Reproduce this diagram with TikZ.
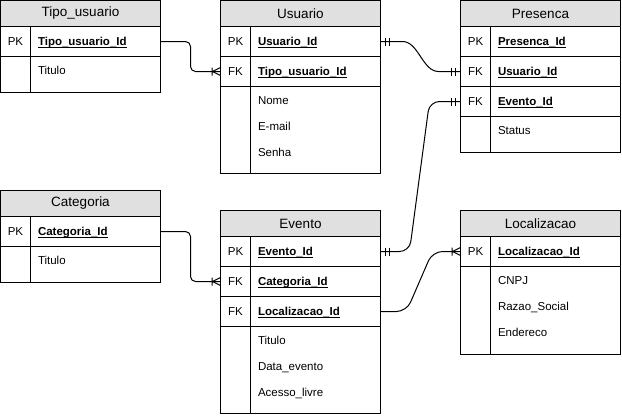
\documentclass[tikz,border=0pt]{standalone}
\usepackage{fontspec}
\setmainfont{Liberation Sans}
\usepackage{xcolor}
\usetikzlibrary{positioning}

\definecolor{headgray}{HTML}{E0E0E0}
\newcommand\ulkey[1]{\underline{\smash{#1}}}

\tikzset{
	head/.style={draw, fill=headgray, minimum width=160pt, minimum height=26pt, inner sep=0pt, outer sep=0pt, font=\fontsize{13.5}{16}\selectfont},
	keyrow/.style={draw, minimum width=160pt, minimum height=30pt, inner sep=0pt, outer sep=0pt},
	attrbox/.style={draw, minimum width=160pt, inner sep=0pt, outer sep=0pt},
	tag/.style={anchor=base, inner sep=0pt, font=\fontsize{11.5}{14}\selectfont},
	keyname/.style={anchor=base west, inner sep=0pt, font=\bfseries\fontsize{11.5}{14}\selectfont},
	attr/.style={anchor=base west, inner sep=0pt, font=\fontsize{11.5}{14}\selectfont},
	pics/onlyone/.style={code={\draw (5,-4) -- (5,4) (9,-4) -- (9,4);}},
	pics/onemany/.style={code={\draw (8.5,-4) -- (8.5,4) (8,0) -- (0,-4) (8,0) -- (0,4);}}
}

\begin{document}
\begin{tikzpicture}[x=1pt,y=-1pt,line width=1pt]
\useasboundingbox (0,0) rectangle (622,416);

% Tipo_usuario
\node[head] (tu) at (80.5,13.5) {Tipo\_usuario};
\node[keyrow, below=0pt of tu] (tu-pk) {};
\node[attrbox, minimum height=36pt, below=0pt of tu-pk] (tu-at) {};
\node[tag] (tu-pk-t) at ([xshift=15pt,yshift=-4.2pt]tu-pk.west) {PK};
\node[keyname] (tu-pk-n) at ([xshift=37pt,yshift=-4.2pt]tu-pk.west) {\ulkey{Tipo\_usuario\_Id}};
\node[attr] (tu-a1) at ([xshift=37pt,yshift=-18.2pt]tu-at.north west) {Titulo};

% Usuario
\node[head] (usr) at (300.5,13.5) {Usuario};
\node[keyrow, below=0pt of usr] (usr-pk) {};
\node[keyrow, below=0pt of usr-pk] (usr-fk) {};
\node[attrbox, minimum height=87pt, below=0pt of usr-fk] (usr-at) {};
\node[tag] (usr-pk-t) at ([xshift=15pt,yshift=-4.2pt]usr-pk.west) {PK};
\node[keyname] (usr-pk-n) at ([xshift=37pt,yshift=-4.2pt]usr-pk.west) {\ulkey{Usuario\_Id}};
\node[tag] (usr-fk-t) at ([xshift=15pt,yshift=-4.2pt]usr-fk.west) {FK};
\node[keyname] (usr-fk-n) at ([xshift=37pt,yshift=-4.2pt]usr-fk.west) {\ulkey{Tipo\_usuario\_Id}};
\foreach \s [count=\i] in {Nome,E-mail,Senha}{
	\node[attr] (usr-a\i) at ([xshift=37pt,yshift={-18.2pt-(\i-1)*26pt}]usr-at.north west) {\s};
}

% Presenca
\node[head] (pre) at (540.5,13.5) {Presenca};
\node[keyrow, below=0pt of pre] (pre-pk) {};
\node[keyrow, below=0pt of pre-pk] (pre-fk1) {};
\node[keyrow, below=0pt of pre-fk1] (pre-fk2) {};
\node[attrbox, minimum height=36pt, below=0pt of pre-fk2] (pre-at) {};
\node[tag] (pre-pk-t) at ([xshift=15pt,yshift=-4.2pt]pre-pk.west) {PK};
\node[keyname] (pre-pk-n) at ([xshift=37pt,yshift=-4.2pt]pre-pk.west) {\ulkey{Presenca\_Id}};
\node[tag] (pre-fk1-t) at ([xshift=15pt,yshift=-4.2pt]pre-fk1.west) {FK};
\node[keyname] (pre-fk1-n) at ([xshift=37pt,yshift=-4.2pt]pre-fk1.west) {\ulkey{Usuario\_Id}};
\node[tag] (pre-fk2-t) at ([xshift=15pt,yshift=-4.2pt]pre-fk2.west) {FK};
\node[keyname] (pre-fk2-n) at ([xshift=37pt,yshift=-4.2pt]pre-fk2.west) {\ulkey{Evento\_Id}};
\node[attr] (pre-a1) at ([xshift=37pt,yshift=-18.2pt]pre-at.north west) {Status};

% Categoria
\node[head] (cat) at (80.5,203.5) {Categoria};
\node[keyrow, below=0pt of cat] (cat-pk) {};
\node[attrbox, minimum height=36pt, below=0pt of cat-pk] (cat-at) {};
\node[tag] (cat-pk-t) at ([xshift=15pt,yshift=-4.2pt]cat-pk.west) {PK};
\node[keyname] (cat-pk-n) at ([xshift=37pt,yshift=-4.2pt]cat-pk.west) {\ulkey{Categoria\_Id}};
\node[attr] (cat-a1) at ([xshift=37pt,yshift=-18.2pt]cat-at.north west) {Titulo};

% Evento
\node[head] (ev) at (300.5,223.5) {Evento};
\node[keyrow, below=0pt of ev] (ev-pk) {};
\node[keyrow, below=0pt of ev-pk] (ev-fk1) {};
\node[keyrow, below=0pt of ev-fk1] (ev-fk2) {};
\node[attrbox, minimum height=87pt, below=0pt of ev-fk2] (ev-at) {};
\node[tag] (ev-pk-t) at ([xshift=15pt,yshift=-4.2pt]ev-pk.west) {PK};
\node[keyname] (ev-pk-n) at ([xshift=37pt,yshift=-4.2pt]ev-pk.west) {\ulkey{Evento\_Id}};
\node[tag] (ev-fk1-t) at ([xshift=15pt,yshift=-4.2pt]ev-fk1.west) {FK};
\node[keyname] (ev-fk1-n) at ([xshift=37pt,yshift=-4.2pt]ev-fk1.west) {\ulkey{Categoria\_Id}};
\node[tag] (ev-fk2-t) at ([xshift=15pt,yshift=-4.2pt]ev-fk2.west) {FK};
\node[keyname] (ev-fk2-n) at ([xshift=37pt,yshift=-4.2pt]ev-fk2.west) {\ulkey{Localizacao\_Id}};
\foreach \s [count=\i] in {Titulo,Data\_evento,Acesso\_livre}{
	\node[attr] (ev-a\i) at ([xshift=37pt,yshift={-18.2pt-(\i-1)*26pt}]ev-at.north west) {\s};
}

% Localizacao
\node[head] (loc) at (540.5,223.5) {Localizacao};
\node[keyrow, below=0pt of loc] (loc-pk) {};
\node[attrbox, minimum height=88pt, below=0pt of loc-pk] (loc-at) {};
\node[tag] (loc-pk-t) at ([xshift=15pt,yshift=-4.2pt]loc-pk.west) {PK};
\node[keyname] (loc-pk-n) at ([xshift=37pt,yshift=-4.2pt]loc-pk.west) {\ulkey{Localizacao\_Id}};
\foreach \s [count=\i] in {CNPJ,Razao\_Social,Endereco}{
	\node[attr] (loc-a\i) at ([xshift=37pt,yshift={-18.2pt-(\i-1)*26pt}]loc-at.north west) {\s};
}

% key column
\foreach \t in {tu,usr,pre,cat,ev,loc}{
	\draw ([xshift=30pt]\t.south west) -- ([xshift=30pt]\t-at.south west);
}

% relations
\draw[rounded corners=5pt] (tu-pk.east) -- ++(30,0) |- (usr-fk.west);
\pic[rotate=180] at (usr-fk.west) {onemany};

\draw (usr-pk.east) -- ++(22,0) .. controls +(16,0) and +(-16,0) .. ([xshift=-22pt]pre-fk1.west) -- (pre-fk1.west);
\pic at (usr-pk.east) {onlyone};
\pic[rotate=180] at (pre-fk1.west) {onlyone};

\draw[rounded corners=10pt] (ev-pk.east) -- ++(29,0) -- ([xshift=-31pt]pre-fk2.west) -- (pre-fk2.west);
\pic at (ev-pk.east) {onlyone};
\pic[rotate=180] at (pre-fk2.west) {onlyone};

\draw[rounded corners=5pt] (cat-pk.east) -- ++(30,0) |- (ev-fk1.west);
\pic[rotate=180] at (ev-fk1.west) {onemany};

\draw[rounded corners=10pt] (ev-fk2.east) -- ++(26,0) -- ([xshift=-28pt]loc-pk.west) -- (loc-pk.west);
\pic[rotate=180] at (loc-pk.west) {onemany};

\end{tikzpicture}
\end{document}
